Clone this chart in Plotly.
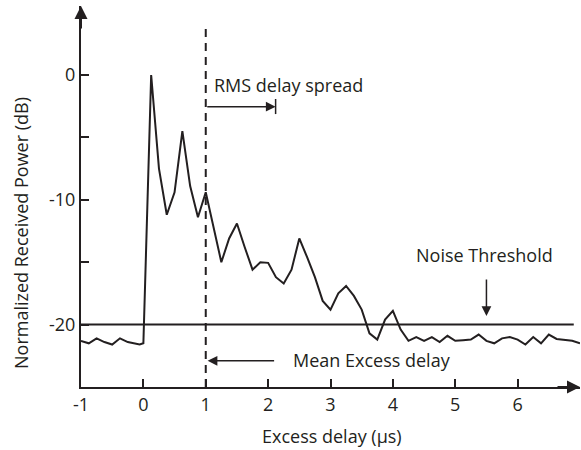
import plotly.graph_objects as go

# Power delay profile samples (excess delay in microseconds, normalized power in dB)
delay_us = [-1.0, -0.875, -0.75, -0.625, -0.5, -0.375, -0.25, -0.06, 0.0,
            0.125, 0.25, 0.375, 0.5, 0.625, 0.75, 0.875, 1.0, 1.125, 1.25,
            1.375, 1.5, 1.625, 1.75, 1.875, 2.0, 2.125, 2.25, 2.375, 2.5,
            2.625, 2.75, 2.875, 3.0, 3.125, 3.25, 3.375, 3.5, 3.625, 3.75,
            3.875, 4.0, 4.125, 4.25, 4.375, 4.5, 4.625, 4.75, 4.875, 5.0,
            5.125, 5.25, 5.375, 5.5, 5.625, 5.75, 5.875, 6.0, 6.125, 6.25,
            6.375, 6.5, 6.625, 6.75, 6.875, 7.0]
power_db = [-21.3, -21.5, -21.1, -21.4, -21.6, -21.1, -21.4, -21.6, -21.5,
            0.0, -7.5, -11.2, -9.4, -4.5, -8.9, -11.4, -9.4, -12.2, -15.0,
            -13.1, -11.9, -13.8, -15.6, -15.0, -15.05, -16.2, -16.7, -15.6, -13.1,
            -14.6, -16.2, -18.1, -18.8, -17.5, -16.9, -17.7, -18.8, -20.7, -21.2,
            -19.6, -18.9, -20.4, -21.3, -21.0, -21.3, -21.0, -21.4, -20.9, -21.3,
            -21.25, -21.2, -20.8, -21.3, -21.5, -21.1, -21.0, -21.2, -21.6, -21.0,
            -21.5, -20.8, -21.15, -21.2, -21.3, -21.5]

x_ticks = [-1, 0, 1, 2, 3, 4, 5, 6]
x_tick_labels = ["-1", "0", "1", "2", "3", "4", "5", "6"]
y_ticks = [0, -5, -10, -15, -20]
y_tick_labels = ["0", "", "-10", "", "-20"]

noise_threshold_db = -20
noise_line_end = 6.9
mean_excess_delay = 1.0
rms_delay_spread_end = 2.12

X_RANGE = [-1, 7]
Y_RANGE = [-25, 5.53]

INK = "#231f20"
FONT = dict(family="Open Sans", size=18, color=INK)

fig = go.Figure()

# Received power profile
fig.add_trace(go.Scatter(
    x=delay_us, y=power_db, mode="lines",
    line=dict(color=INK, width=2), hoverinfo="skip", showlegend=False,
))

shapes = [
    # Noise threshold level
    dict(type="line", xref="x", yref="y", x0=X_RANGE[0], x1=noise_line_end,
         y0=noise_threshold_db, y1=noise_threshold_db,
         line=dict(color=INK, width=2)),
    # Mean excess delay marker
    dict(type="line", xref="x", yref="y", x0=mean_excess_delay, x1=mean_excess_delay,
         y0=Y_RANGE[0], y1=3.77,
         line=dict(color=INK, width=2, dash="8px,6px")),
    # End bar of the RMS delay spread arrow
    dict(type="line", xref="x", yref="y", x0=rms_delay_spread_end, x1=rms_delay_spread_end,
         y0=-1.92, y1=-3.13, line=dict(color=INK, width=1.5)),
]

annotations = [
    # Axis arrowheads
    dict(x=X_RANGE[1], y=Y_RANGE[0], xref="x", yref="y", ax=-24, ay=0,
         showarrow=True, arrowhead=2, arrowsize=1.3, arrowwidth=2, arrowcolor=INK, text=""),
    dict(x=X_RANGE[0], y=Y_RANGE[1], xref="x", yref="y", ax=0, ay=24,
         showarrow=True, arrowhead=2, arrowsize=1.3, arrowwidth=2, arrowcolor=INK, text=""),
    # RMS delay spread arrow and label
    dict(x=rms_delay_spread_end, y=-2.54, xref="x", yref="y",
         ax=mean_excess_delay, ay=-2.54, axref="x", ayref="y",
         showarrow=True, arrowhead=2, arrowsize=1.3, arrowwidth=1.5, arrowcolor=INK, text=""),
    dict(x=2.33, y=-0.8, xref="x", yref="y", text="RMS delay spread",
         showarrow=False, font=FONT),
    # Mean excess delay arrow and label
    dict(x=1.03, y=-22.9, xref="x", yref="y", ax=2.12, ay=-22.9, axref="x", ayref="y",
         showarrow=True, arrowhead=2, arrowsize=1.3, arrowwidth=1.5, arrowcolor=INK, text=""),
    dict(x=3.66, y=-22.84, xref="x", yref="y", text="Mean Excess delay",
         showarrow=False, font=FONT),
    # Noise threshold arrow and label
    dict(x=5.5, y=-19.31, xref="x", yref="y", ax=5.5, ay=-16.27, axref="x", ayref="y",
         showarrow=True, arrowhead=2, arrowsize=1.3, arrowwidth=1.5, arrowcolor=INK, text=""),
    dict(x=5.47, y=-14.42, xref="x", yref="y", text="Noise Threshold",
         showarrow=False, font=FONT),
    # Axis titles (positions given in pixels, converted below)
    dict(x=332, y=436, xref="paper", yref="paper", text="Excess delay (\u03bcs)",
         showarrow=False, font=FONT, xanchor="center", yanchor="middle"),
    dict(x=21, y=233, xref="paper", yref="paper", text="Normalized Received Power (dB)",
         showarrow=False, font=FONT, textangle=-90, xanchor="center", yanchor="middle"),
]

# Convert the two axis-title positions from pixels to paper coordinates
W, H = 581, 450
M = dict(l=81, r=1, t=6, b=63)
pw, ph = W - M["l"] - M["r"], H - M["t"] - M["b"]
for a in annotations[-2:]:
    a["x"] = (a["x"] - M["l"]) / pw
    a["y"] = (H - M["b"] - a["y"]) / ph

fig.update_layout(
    width=W, height=H, margin=M,
    paper_bgcolor="white", plot_bgcolor="white",
    font=FONT, shapes=shapes, annotations=annotations,
    xaxis=dict(range=X_RANGE, tickvals=x_ticks, ticktext=x_tick_labels,
               showgrid=False, zeroline=False, showline=True, linecolor=INK,
               linewidth=2, ticks="inside", ticklen=8, tickwidth=1.5, tickcolor=INK,
               tickfont=FONT),
    yaxis=dict(range=Y_RANGE, tickvals=y_ticks, ticktext=y_tick_labels,
               showgrid=False, zeroline=False, showline=True, linecolor=INK,
               linewidth=2, ticks="inside", ticklen=8, tickwidth=1.5, tickcolor=INK,
               tickfont=FONT),
)

fig.write_html("out.html")
